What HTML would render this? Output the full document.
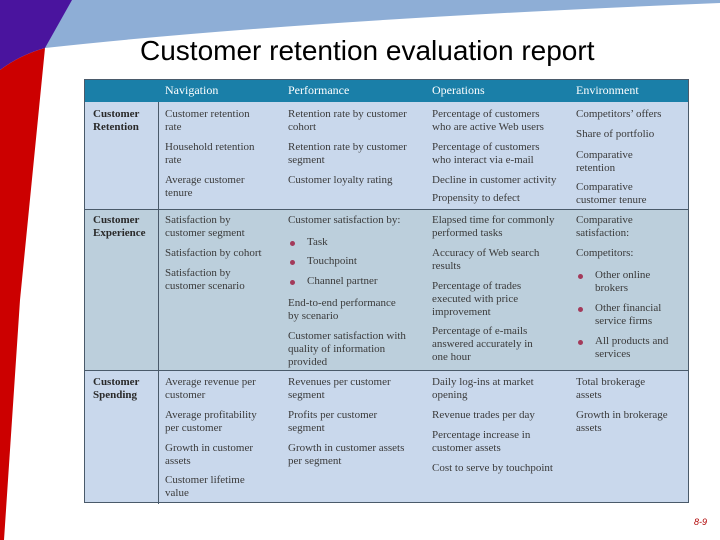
<!DOCTYPE html>
<html><head><meta charset="utf-8"><style>
body{margin:0;width:720px;height:540px;overflow:hidden;background:#fff;position:relative;font-family:"Liberation Serif",serif}
.t{position:absolute;font-size:11px;line-height:13px;color:#3a3a3a;white-space:nowrap;transform:translateY(2px)}
.b{font-weight:bold;color:#2a2a2a}
.h{position:absolute;top:83px;font-size:12px;color:#fff;font-family:"Liberation Serif",serif}
.dot{position:absolute;width:5px;height:5px;border-radius:50%;background:#a33a5a;transform:translateY(2px)}
</style></head><body>
<svg width="720" height="540" style="position:absolute;left:0;top:0">
<path d="M50,0 L720,0 L720,3 Q300,20 45,48 Z" fill="#8eaed6"/>
<path d="M0,0 L72,0 L45,48 Q20,55 0,70 Z" fill="#4a149e"/>
<path d="M0,70 Q20,55 45,48 L20,300 L4,540 L0,540 Z" fill="#cc0000"/>
</svg>
<div style="position:absolute;left:140px;top:35px;font-family:'Liberation Sans',sans-serif;font-size:28px;color:#000;white-space:nowrap">Customer retention evaluation report</div>

<div style="position:absolute;left:84px;top:79px;width:605px;height:424px;border:1px solid #4a5a6a;box-sizing:border-box;background:#c9d8ec">
<div style="position:absolute;left:0;top:0;width:100%;height:22px;background:#1a7fa8"></div>
<div style="position:absolute;left:0;top:129px;width:100%;height:162px;background:#bccfdc;border-top:1px solid #4a5a6a;border-bottom:1px solid #4a5a6a;box-sizing:border-box"></div>
<div style="position:absolute;left:73px;top:22px;width:1px;height:402px;background:#4a5a6a"></div>
</div>

<div class="h" style="left:165px">Navigation</div>
<div class="h" style="left:288px">Performance</div>
<div class="h" style="left:432px">Operations</div>
<div class="h" style="left:576px">Environment</div>

<!-- Row 1 -->
<div class="t b" style="left:93px;top:106px">Customer<br>Retention</div>
<div class="t" style="left:165px;top:106px">Customer retention<br>rate</div>
<div class="t" style="left:165px;top:139px">Household retention<br>rate</div>
<div class="t" style="left:165px;top:172px">Average customer<br>tenure</div>
<div class="t" style="left:288px;top:106px">Retention rate by customer<br>cohort</div>
<div class="t" style="left:288px;top:139px">Retention rate by customer<br>segment</div>
<div class="t" style="left:288px;top:172px">Customer loyalty rating</div>
<div class="t" style="left:432px;top:106px">Percentage of customers<br>who are active Web users</div>
<div class="t" style="left:432px;top:139px">Percentage of customers<br>who interact via e-mail</div>
<div class="t" style="left:432px;top:172px">Decline in customer activity</div>
<div class="t" style="left:432px;top:190px">Propensity to defect</div>
<div class="t" style="left:576px;top:106px">Competitors’ offers</div>
<div class="t" style="left:576px;top:126px">Share of portfolio</div>
<div class="t" style="left:576px;top:147px">Comparative<br>retention</div>
<div class="t" style="left:576px;top:179px">Comparative<br>customer tenure</div>

<!-- Row 2 -->
<div class="t b" style="left:93px;top:212px">Customer<br>Experience</div>
<div class="t" style="left:165px;top:212px">Satisfaction by<br>customer segment</div>
<div class="t" style="left:165px;top:245px">Satisfaction by cohort</div>
<div class="t" style="left:165px;top:265px">Satisfaction by<br>customer scenario</div>
<div class="t" style="left:288px;top:212px">Customer satisfaction by:</div>
<div class="dot" style="left:290px;top:239px"></div>
<div class="t" style="left:307px;top:234px">Task</div>
<div class="dot" style="left:290px;top:258px"></div>
<div class="t" style="left:307px;top:253px">Touchpoint</div>
<div class="dot" style="left:290px;top:278px"></div>
<div class="t" style="left:307px;top:273px">Channel partner</div>
<div class="t" style="left:288px;top:295px">End-to-end performance<br>by scenario</div>
<div class="t" style="left:288px;top:328px">Customer satisfaction with<br>quality of information<br>provided</div>
<div class="t" style="left:432px;top:212px">Elapsed time for commonly<br>performed tasks</div>
<div class="t" style="left:432px;top:245px">Accuracy of Web search<br>results</div>
<div class="t" style="left:432px;top:278px">Percentage of trades<br>executed with price<br>improvement</div>
<div class="t" style="left:432px;top:323px">Percentage of e-mails<br>answered accurately in<br>one hour</div>
<div class="t" style="left:576px;top:212px">Comparative<br>satisfaction:</div>
<div class="t" style="left:576px;top:245px">Competitors:</div>
<div class="dot" style="left:578px;top:272px"></div>
<div class="t" style="left:595px;top:267px">Other online<br>brokers</div>
<div class="dot" style="left:578px;top:305px"></div>
<div class="t" style="left:595px;top:300px">Other financial<br>service firms</div>
<div class="dot" style="left:578px;top:338px"></div>
<div class="t" style="left:595px;top:333px">All products and<br>services</div>

<!-- Row 3 -->
<div class="t b" style="left:93px;top:374px">Customer<br>Spending</div>
<div class="t" style="left:165px;top:374px">Average revenue per<br>customer</div>
<div class="t" style="left:165px;top:407px">Average profitability<br>per customer</div>
<div class="t" style="left:165px;top:440px">Growth in customer<br>assets</div>
<div class="t" style="left:165px;top:472px">Customer lifetime<br>value</div>
<div class="t" style="left:288px;top:374px">Revenues per customer<br>segment</div>
<div class="t" style="left:288px;top:407px">Profits per customer<br>segment</div>
<div class="t" style="left:288px;top:440px">Growth in customer assets<br>per segment</div>
<div class="t" style="left:432px;top:374px">Daily log-ins at market<br>opening</div>
<div class="t" style="left:432px;top:407px">Revenue trades per day</div>
<div class="t" style="left:432px;top:427px">Percentage increase in<br>customer assets</div>
<div class="t" style="left:432px;top:460px">Cost to serve by touchpoint</div>
<div class="t" style="left:576px;top:374px">Total brokerage<br>assets</div>
<div class="t" style="left:576px;top:407px">Growth in brokerage<br>assets</div>

<div style="position:absolute;left:694px;top:517px;font-size:9px;font-style:italic;color:#b00000;font-family:'Liberation Sans',sans-serif">8-9</div>
</body></html>
